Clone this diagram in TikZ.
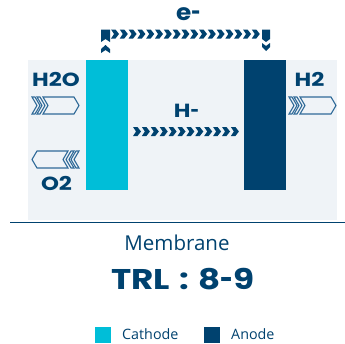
\documentclass[tikz,border=0pt]{standalone}
\usepackage{fontspec}
\setmainfont{Open Sans}
\newfontfamily\wide{Poppins}
\usepackage{graphicx}
\newcommand{\shdash}{\scalebox{0.65}[1]{-}}
\definecolor{cyanbar}{HTML}{00BED8}
\definecolor{navy}{HTML}{00426F}
\definecolor{panel}{HTML}{EFF3F7}
\definecolor{outl}{HTML}{2F6A98}
\tikzset{
  chev/.pic={\fill[navy] (0,-4.5) -- (4.5,-4.5) -- (8,0) -- (4.5,4.5) -- (0,4.5) -- (3,0) -- cycle;},
  lbl/.style={text=navy, inner sep=0pt, anchor=base, font=\wide\bfseries\fontsize{19}{20}\selectfont},
  outline/.style={draw=outl, line width=1.1pt, line join=miter},
}
\begin{document}
\begin{tikzpicture}[x=1pt,y=-1pt]
\useasboundingbox (0,0) rectangle (345,343);
\fill[white] (0,0) rectangle (345,343);
% panel
\fill[panel] (28,60) rectangle (337,220);
\draw[navy, line width=1pt] (10,222) -- (345,222);
% bars
\node[fill=cyanbar, minimum width=42pt, minimum height=130pt, inner sep=0pt, anchor=north west] (cath) at (86,60) {};
\node[fill=navy, minimum width=42pt, minimum height=130pt, inner sep=0pt, anchor=north west] (anod) at (244,60) {};
% top electron path
\fill[navy] (101,29.5) -- (110,29.5) -- (110,42) -- (105.5,39) -- (101,42) -- cycle;
\fill[navy] (101,53) -- (101,49) -- (105.5,45) -- (110,49) -- (110,53) -- (105.5,50) -- cycle;
\foreach \i in {0,...,16} \pic at ({111+\i*8.8},34) {chev};
\fill[navy] (262,29.5) -- (270,29.5) -- (270,39) -- (266,42) -- (262,39) -- cycle;
\fill[navy] (262,43) -- (266,46) -- (270,43) -- (270,47) -- (266,51) -- (262,47) -- cycle;
\node[lbl] (e) at (188.5,20) {\scalebox{1.3}[1.2]{e\shdash}};
% H- path
\foreach \i in {0,...,11} \pic at ({133+\i*8.9},131.5) {chev};
\node[lbl] (h) at (186.5,117) {\scalebox{1.2}[1]{H\shdash}};
% H2O in
\node[lbl] (h2o) at (56,86) {\scalebox{1.2}[1]{H2O}};
\draw[outline] (32,97) -- (35,97) -- (40,105.5) -- (35,114) -- (32,114) -- (37,105.5) -- cycle;
\draw[outline] (37,97) -- (40,97) -- (45,105.5) -- (40,114) -- (37,114) -- (42,105.5) -- cycle;
\draw[outline] (43,97) -- (74,97) -- (79,105.5) -- (74,114) -- (43,114) -- (48,105.5) -- cycle;
% O2 out
\node[lbl] (o2) at (56.5,190) {\scalebox{1.2}[1]{O2}};
\draw[outline] (79,151) -- (76,151) -- (71,159.5) -- (76,168) -- (79,168) -- (74,159.5) -- cycle;
\draw[outline] (74,151) -- (71,151) -- (66,159.5) -- (71,168) -- (74,168) -- (69,159.5) -- cycle;
\draw[outline] (68,151) -- (37,151) -- (32,159.5) -- (37,168) -- (68,168) -- (63,159.5) -- cycle;
% H2 out
\node[lbl] (h2) at (309.5,86) {\scalebox{1.2}[1]{H2}};
\draw[outline] (289,97) -- (292,97) -- (297,105.5) -- (292,114) -- (289,114) -- (294,105.5) -- cycle;
\draw[outline] (294,97) -- (297,97) -- (302,105.5) -- (297,114) -- (294,114) -- (299,105.5) -- cycle;
\draw[outline] (300,97) -- (331,97) -- (336,105.5) -- (331,114) -- (300,114) -- (305,105.5) -- cycle;
% captions
\node[text=navy, inner sep=0pt, anchor=base, font=\fontsize{20.5}{22}\selectfont] (mem) at (177,250) {Membrane};
\node[text=navy, inner sep=0pt, anchor=base, font=\wide\bfseries\fontsize{28.5}{30}\selectfont] (trl) at (183,289) {\scalebox{1.2}[1]{TRL\hspace{0.28em}:\hspace{0.28em}8\shdash 9}};
% legend
\fill[cyanbar] (95,327) rectangle (111,343);
\node[text=navy, inner sep=0pt, anchor=base west, font=\fontsize{14.3}{16}\selectfont] (lc) at (122,339) {Cathode};
\fill[navy] (204,327) rectangle (220,343);
\node[text=navy, inner sep=0pt, anchor=base west, font=\fontsize{14.3}{16}\selectfont] (la) at (231,339) {Anode};
\end{tikzpicture}
\end{document}
